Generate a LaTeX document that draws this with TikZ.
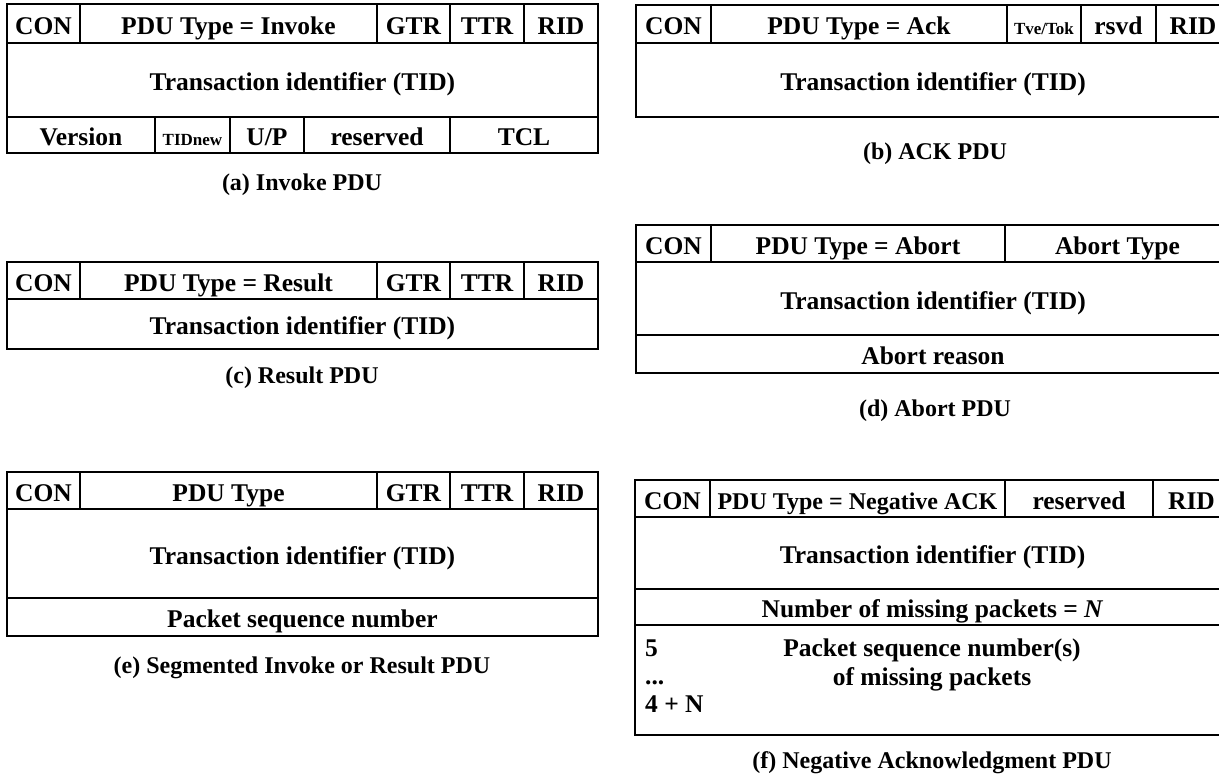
\documentclass[tikz,border=0pt]{standalone}
\usepackage{fontspec}
\setmainfont{Liberation Serif}
\newcommand\pdufont{\bfseries\fontsize{25.5}{29}\selectfont}
\newcommand\pducapfont{\bfseries\fontsize{24}{28}\selectfont}
\newcommand\pducell[7]{%
  \pgfmathsetmacro\pducw{#4-#2}\pgfmathsetmacro\pduch{#5-#3}%
  \node[cell, minimum width=\pducw pt, minimum height=\pduch pt, #6] (#1) at (#2,#3) {#7};}
\tikzset{
  cell/.style={draw, line width=1.7pt, inner sep=0pt, outer sep=0pt, anchor=north west,
    font=\pdufont, text height=21pt, text depth=0pt},
  smalltxt/.style={font=\bfseries\fontsize{17}{19}\selectfont},
  condtxt/.style={font=\bfseries\fontsize{24}{28}\selectfont},
  captxt/.style={font=\pducapfont, inner sep=0pt},
  txt/.style={font=\pdufont, inner sep=0pt, align=center}
}
\begin{document}
\begin{tikzpicture}[x=1pt, y=-1pt]
\useasboundingbox (0,0) rectangle (1219,780);
\clip (0,0) rectangle (1219,780);
\fill[white] (0,0) rectangle (1219,780);
% (a) Invoke PDU
\pducell{aCON}{7}{4}{80}{43}{}{CON}
\pducell{aPDU}{80}{4}{377}{43}{}{PDU Type = Invoke}
\pducell{aGTR}{377}{4}{450}{43}{}{GTR}
\pducell{aTTR}{450}{4}{524}{43}{}{TTR}
\pducell{aRID}{524}{4}{598}{43}{}{RID}
\pducell{aTID}{7}{43}{598}{117}{}{Transaction identifier (TID)}
\pducell{aVer}{7}{117}{155}{153}{}{Version}
\pducell{aNew}{155}{117}{230}{153}{smalltxt}{TIDnew}
\pducell{aUP}{230}{117}{304}{153}{}{U/P}
\pducell{aRes}{304}{117}{450}{153}{}{reserved}
\pducell{aTCL}{450}{117}{598}{153}{}{TCL}
\node[captxt] (capa) at (302,185) {(a) Invoke PDU};
% (b) ACK PDU
\pducell{bCON}{636}{5}{711}{43}{}{CON}
\pducell{bPDU}{711}{5}{1007}{43}{}{PDU Type = Ack}
\pducell{bTve}{1007}{5}{1081}{43}{smalltxt}{Tve/Tok}
\pducell{bRsvd}{1081}{5}{1156}{43}{}{rsvd}
\pducell{bRID}{1156}{5}{1230}{43}{}{RID}
\pducell{bTID}{636}{43}{1230}{117}{}{Transaction identifier (TID)}
\node[captxt] (capb) at (935,154) {(b) ACK PDU};
% (c) Result PDU
\pducell{cCON}{7}{262}{80}{299}{}{CON}
\pducell{cPDU}{80}{262}{377}{299}{}{PDU Type = Result}
\pducell{cGTR}{377}{262}{450}{299}{}{GTR}
\pducell{cTTR}{450}{262}{524}{299}{}{TTR}
\pducell{cRID}{524}{262}{598}{299}{}{RID}
\pducell{cTID}{7}{299}{598}{349}{}{Transaction identifier (TID)}
\node[captxt] (capc) at (302,378) {(c) Result PDU};
% (d) Abort PDU
\pducell{dCON}{636}{225}{711}{262}{}{CON}
\pducell{dPDU}{711}{225}{1005}{262}{}{PDU Type = Abort}
\pducell{dAT}{1005}{225}{1230}{262}{}{Abort Type}
\pducell{dTID}{636}{262}{1230}{335}{}{Transaction identifier (TID)}
\pducell{dAR}{636}{335}{1230}{373}{}{Abort reason}
\node[captxt] (capd) at (935,411) {(d) Abort PDU};
% (e) Segmented Invoke or Result PDU
\pducell{eCON}{7}{472}{80}{509}{}{CON}
\pducell{ePDU}{80}{472}{377}{509}{}{PDU Type}
\pducell{eGTR}{377}{472}{450}{509}{}{GTR}
\pducell{eTTR}{450}{472}{524}{509}{}{TTR}
\pducell{eRID}{524}{472}{598}{509}{}{RID}
\pducell{eTID}{7}{509}{598}{598}{}{Transaction identifier (TID)}
\pducell{ePSN}{7}{598}{598}{636}{}{Packet sequence number}
\node[captxt] (cape) at (302,668) {(e) Segmented Invoke or Result PDU};
% (f) Negative Acknowledgment PDU
\pducell{fCON}{635}{480}{710}{517}{}{CON}
\pducell{fPDU}{710}{480}{1005}{517}{condtxt}{PDU Type = Negative ACK}
\pducell{fRes}{1005}{480}{1153}{517}{}{reserved}
\pducell{fRID}{1153}{480}{1230}{517}{}{RID}
\pducell{fTID}{635}{517}{1230}{589}{}{Transaction identifier (TID)}
\pducell{fNum}{635}{589}{1230}{625}{}{Number of missing packets = \textit{N}}
\pducell{fSeq}{635}{625}{1230}{735}{}{}
\node[txt, anchor=base west] (f5) at (645,656) {5};
\node[txt, anchor=base west] (fdots) at (645,684) {...};
\node[txt, anchor=base west] (f4N) at (645,712) {4 + N};
\node[txt, anchor=base] (fPSN) at (932,656) {Packet sequence number(s)};
\node[txt, anchor=base] (fPSN2) at (932,685) {of missing packets};
\node[captxt] (capf) at (932,763) {(f) Negative Acknowledgment PDU};
\end{tikzpicture}
\end{document}
